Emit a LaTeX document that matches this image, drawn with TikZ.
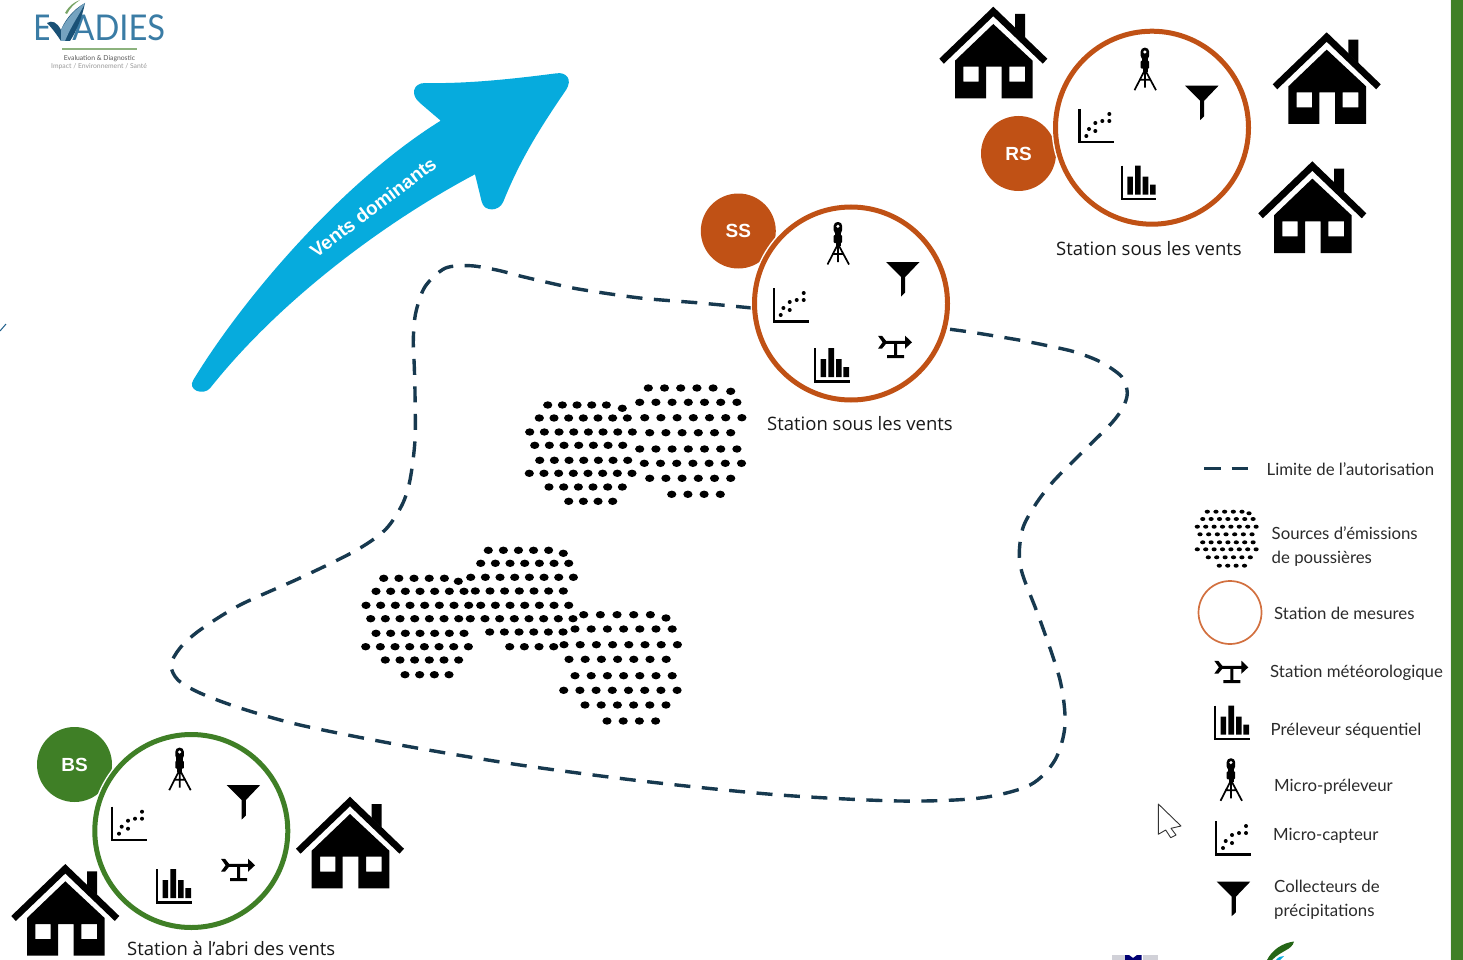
\documentclass[tikz,border=0pt]{standalone}
\usepackage{fontspec}
\setmainfont{Lato}
\newfontfamily\seg{Open Sans}
\newfontfamily\hel{Liberation Sans}
\definecolor{ora}{HTML}{C05115}
\definecolor{oral}{HTML}{D2703F}
\definecolor{grn}{HTML}{3F7F26}
\definecolor{navy}{HTML}{17394F}
\definecolor{wind}{HTML}{06ABDD}
\definecolor{evb}{HTML}{3A7CA5}
\definecolor{evd}{HTML}{1F5F8B}
\definecolor{legt}{HTML}{2B2B2B}
\tikzset{
  ring/.style={circle,draw=#1,line width=5pt,minimum size=193pt,inner sep=0pt,fill=white},
  halo/.style={circle,fill=white,minimum size=201pt,inner sep=0pt},
  badge/.style={circle,fill=#1,minimum size=75pt,inner sep=0pt,text=white,font=\hel\bfseries\fontsize{19}{19}\selectfont},
  stlabel/.style={anchor=base west,inner sep=0pt,text=black!90,font=\seg\fontsize{18.5}{18.5}\selectfont},
  legend/.style={anchor=base west,inner sep=0pt,text=legt,font=\fontsize{16.8}{16.8}\selectfont},
  boundary/.style={draw=navy,line width=3.4pt,dash pattern=on 16pt off 11.5pt}
}
\newcommand{\icTripod}[2]{\begin{scope}[shift={(#1,#2)}]
 \fill[rounded corners=3.8pt] (6.7,0) rectangle (15.1,12);
 \fill (7.6,10) rectangle (14.2,15);
 \fill[rounded corners=1pt] (6.7,13) rectangle (15.1,21);
 \fill (8.5,20) rectangle (13.5,24);
 \fill[white] (10.9,4.3) circle (1.7);
 \draw[line width=1.7pt] (11,22) -- (0.5,42.5) (11,22) -- (22,42.5) (11,22) -- (11,40) (5,32) -- (17,32);
\end{scope}}
\newcommand{\icFunnel}[2]{\begin{scope}[shift={(#1,#2)}]
 \fill (0,0) -- (33.5,0) -- (19.2,15) -- (19.2,30.5) -- (15,34.5) -- (15,15) -- cycle;
\end{scope}}
\newcommand{\icCapteur}[2]{\begin{scope}[shift={(#1,#2)}]
 \draw[line width=2.4pt] (1.2,0) -- (1.2,33.3) -- (36,33.3);
 \foreach \p/\q in {8/27,10.7/20,17/14,17/22,24/12,31/12,31/5} \fill (\p,\q) circle (2);
\end{scope}}
\newcommand{\icBars}[2]{\begin{scope}[shift={(#1,#2)}]
 \draw[line width=2.4pt] (1.2,0) -- (1.2,33.3) -- (35.5,33.3);
 \fill (6.7,11) rectangle (12.2,29) (14.3,0) rectangle (20,29) (22,11) rectangle (27.7,29) (29.3,19) rectangle (35,29);
\end{scope}}
\newcommand{\icMeteo}[2]{\begin{scope}[shift={(#1,#2)}]
 \fill (0,0.8) -- (4,0.8) -- (8,5.8) -- (27,5.8) -- (27,0.6) -- (34,7.3) -- (27,13.8) -- (27,8.8) -- (8,8.8) -- (4,13.6) -- (0,13.6) -- (4.6,7.3) -- cycle;
 \fill (16,8) rectangle (19,20.5) (9,20.2) rectangle (26,23);
\end{scope}}
\newcommand{\icHouse}[2]{\begin{scope}[shift={(#1,#2)}]
 \fill (0,0) -- (54,52) -- (49.5,57) -- (0,9.5) -- (-49.5,57) -- (-54,52) -- cycle;
 \fill (21.7,7.3) -- (31.7,7.3) -- (31.7,31) -- (21.7,21.5) -- cycle;
 \fill[even odd rule] (0,17.3) -- (39.3,54) -- (39.3,91.7) -- (8.3,91.7) -- (8.3,60) -- (-7.3,60) -- (-7.3,91.7) -- (-38.3,91.7) -- (-38.3,54) -- cycle
  (-30,60) rectangle (-14.7,75) (16,60) rectangle (31.7,75);
\end{scope}}
\newcommand{\drow}[4]{\foreach \k in {1,...,#3} \fill ({#1+(\k-1)*#4},#2) ellipse[x radius=\drx,y radius=\dry];}
\begin{document}
\begin{tikzpicture}[x=1pt,y=-1pt]
\useasboundingbox (0,0) rectangle (1463,960);
\fill[white] (0,0) rectangle (1463,960);
\fill[grn] (1451,0) rectangle (1463,960);
\fill[black!6] (1449.5,0) rectangle (1451,960);
% tick
\draw[evd,line width=1pt] (0,331) -- (6,324);
% logo
\node[anchor=base west,inner sep=0pt,text=evb,xscale=0.92,font=\fontsize{35.5}{35.5}\selectfont] (evlogo) at (33,41) {EVADIES};
\fill[white] (49,5) rectangle (70,42);
\fill[evd!85!black] (47,23) .. controls (52,20) and (57,22) .. (61,30) .. controls (64,22) and (72,10) .. (85,3) .. controls (82,18) and (76,32) .. (70,41) -- (61,41) .. controls (57,35) and (52,28) .. cycle;
\fill[evb!70!white] (61,30) .. controls (66,20) and (74,10) .. (85,3) .. controls (80,14) and (72,24) .. (65,41) -- (61,41) -- cycle;
\fill[grn!70!white] (65,13) .. controls (69,6) and (74,2) .. (80,0) .. controls (74,4) and (70,8) .. (67,14) -- cycle;
\fill[grn!60!white] (62,47.8) rectangle (137,49.6);
\node[anchor=base,inner sep=0pt,text=black!65,font=\fontsize{6.8}{6.8}\selectfont] (evsub) at (99.5,60.5) {Evaluation \& Diagnostic};
\node[anchor=base,inner sep=0pt,text=black!40,font=\fontsize{6.8}{6.8}\selectfont] (evsub2) at (99,68.5) {Impact / Environnement / Santé};
% wind arrow
\fill[wind] (193.3,380) .. controls (245,295) and (345,180) .. (440.7,120.7) -- (420,103)
 .. controls (410,95) and (413,83) .. (425,83) .. controls (470,84) and (520,78) .. (556.7,73.3)
 .. controls (566,72) and (573,79) .. (566,90) .. controls (540,128) and (520,160) .. (503.3,201.7)
 .. controls (499,212) and (484,212) .. (481.7,201.7) -- (475,174.3)
 .. controls (385,222) and (280,300) .. (210,388.3) .. controls (203,396) and (187,390) .. cycle;
\node[rotate=37,inner sep=0pt,text=white,font=\hel\bfseries\fontsize{19}{19}\selectfont] (windlab) at (373,207) {Vents dominants};
% boundary
\draw[boundary] plot[smooth,tension=0.5] coordinates {(752,308) (700,303) (640,298) (580,289.3) (550,283) (523,276.7) (496.7,270) (470,265.7) (445,268.3) (425,286.7) (415.7,313) (413.3,340) (414.3,366.7) (415,393) (415,440) (410,480) (402,505) (385,530) (355,551) (300,578) (240,605) (200,630) (180,648) (171,665) (178,680) (200,693) (240,708) (300,725) (400,745) (520,765) (650,782) (780,795) (900,801) (980,798) (1030,785) (1055,760) (1065,725) (1060,680) (1040,620) (1022.7,575) (1019.3,552.7) (1023.3,526.7) (1036.7,502.7) (1053,481.7) (1071.7,462.7) (1091.7,443) (1111.7,423) (1122.7,408) (1127.3,393) (1121.7,376.7) (1100.7,362) (1075,352) (1049,346) (1022.7,340.7) (995,336) (970,332) (948,329)};
% dots
\def\drx{4.6}\def\dry{3.7}
\drow{547.7}{405}{5}{14.67}\drow{622.3}{408.3}{1}{1}
\drow{539.3}{418}{7}{14.67}\drow{529.7}{432}{8}{14.67}\drow{534.7}{445.3}{7}{14.67}
\drow{539.7}{460.3}{7}{14.67}\drow{529.3}{473.3}{8}{14.67}\drow{549}{487}{6}{14.67}\drow{568.7}{501.3}{4}{14.67}
\drow{648.3}{388}{5}{16.2}\drow{730.7}{391.3}{1}{1}
\drow{639.7}{402.3}{7}{16.2}\drow{644.7}{417.7}{7}{16.2}\drow{649.7}{432.7}{6}{16.2}
\drow{639.7}{449}{7}{16.2}\drow{644.3}{463.3}{7}{16.2}\drow{649.7}{478.3}{6}{16.2}\drow{671.7}{494.3}{4}{16.2}
\drow{383.7}{578.3}{5}{15.17}\drow{458.3}{581.3}{1}{1}
\drow{376}{591.3}{7}{14.67}\drow{366}{605.3}{8}{14.67}\drow{370.7}{618.7}{7}{14.67}
\drow{376}{633.3}{7}{14.67}\drow{365.7}{646.7}{8}{14.67}\drow{385.3}{660}{6}{14.67}\drow{405}{674.7}{4}{14.67}
\drow{488.3}{550.3}{5}{15.08}\drow{563.3}{553.3}{1}{1}
\drow{480.7}{563.3}{7}{14.67}\drow{470.7}{577.3}{8}{14.67}\drow{475.3}{591}{7}{14.67}
\drow{480.7}{605.3}{7}{14.67}\drow{470.3}{618.7}{8}{14.67}\drow{489.7}{632}{6}{14.67}\drow{509.7}{646.7}{4}{14.67}
\drow{583.7}{614.7}{5}{16.67}\drow{666}{618}{1}{1}
\drow{575}{629}{7}{16.2}\drow{564}{644.7}{8}{16.2}\drow{569}{659.3}{7}{16.2}
\drow{575}{675.7}{7}{16.2}\drow{563.7}{690.3}{8}{16.2}\drow{585}{705}{6}{16.2}\drow{607}{721}{4}{16.2}
% legend dots
\def\drx{2.6}\def\dry{2}
\drow{1207.3}{511.7}{5}{8.67}\drow{1249}{513.3}{1}{1}
\drow{1202.7}{519}{7}{8.4}\drow{1197.3}{526.7}{8}{8.4}\drow{1200}{534.3}{7}{8.67}
\drow{1202.7}{542.3}{7}{8.4}\drow{1197.3}{549.3}{8}{8.4}\drow{1208.3}{557.3}{6}{8.4}\drow{1219.3}{565.7}{4}{8.4}
% badges and rings
\node[badge=ora] (ss) at (738.3,231) {SS};
\node[badge=ora] (rs) at (1018.5,153.5) {RS};
\node[badge=grn] (bs) at (74.5,764.5) {BS};
\node[halo] (ssh) at (851,303.5) {};
\node[halo] (rsh) at (1152,127.7) {};
\node[halo] (bsh) at (191.3,831) {};
\node[ring=ora] (ssr) at (851,303.5) {};
\node[ring=ora] (rsr) at (1152,127.7) {};
\node[ring=grn] (bsr) at (191.3,831) {};
% icons SS
\icTripod{827}{222}\icFunnel{886}{262}\icCapteur{772.7}{288}\icBars{814}{348}\icMeteo{878}{335}
% icons RS
\icTripod{1134}{47.7}\icFunnel{1185}{85.7}\icCapteur{1078.3}{109}\icBars{1120.7}{165.7}
% icons BS
\icTripod{168.7}{747.7}\icFunnel{226.7}{785}\icCapteur{111}{806.7}\icBars{156}{869}\icMeteo{221}{858}
% houses
\icHouse{993.3}{6.7}\icHouse{1326.7}{32.3}\icHouse{1312.3}{161.3}\icHouse{65.3}{864}\icHouse{350}{796.7}
% station labels
\node[stlabel] (lss) at (767,430) {Station sous les vents};
\node[stlabel] (lrs) at (1056,255) {Station sous les vents};
\node[stlabel] (lbs) at (127,955) {Station à l’abri des vents};
% legend
\draw[navy,line width=3pt] (1204,468.3) -- (1220.7,468.3) (1231.7,468.3) -- (1248,468.3);
\node[legend] (t1) at (1266.5,475) {Limite de l’autorisation};
\node[legend] (t2) at (1271.5,539) {Sources d’émissions};
\node[legend] (t2b) at (1271.5,563) {de poussières};
\node[circle,draw=oral,line width=1.7pt,minimum size=63pt,inner sep=0pt] (lc) at (1230,612.5) {};
\node[legend] (t3) at (1274,619) {Station de mesures};
\icMeteo{1214.3}{660}
\node[legend] (t4) at (1270,677.5) {Station météorologique};
\icBars{1214}{705.5}
\node[legend] (t5) at (1270.5,735) {Préleveur séquentiel};
\icTripod{1220}{758.3}
\node[legend] (t6) at (1274,791) {Micro-préleveur};
\icCapteur{1215}{821}
\node[legend] (t7) at (1273,840.7) {Micro-capteur};
\icFunnel{1216.7}{881.7}
\node[legend] (t8) at (1274,892.7) {Collecteurs de};
\node[legend] (t8b) at (1274,916.7) {précipitations};
% cursor
\draw[fill=white,draw=black!80,line width=0.9pt,line join=round] (1158.3,804) -- (1181,826) -- (1171,828.3) -- (1176,835) -- (1170.7,837.7) -- (1165.7,830) -- (1158.3,834.3) -- cycle;
% logo fragments at the lower edge
\fill[blue!15!black!18] (1112,955) rectangle (1125,960);
\fill[blue!45!black] (1125,955) -- (1129,955) -- (1133,958) -- (1137,955) -- (1141.5,955) -- (1141.5,960) -- (1125,960) -- cycle;
\fill[blue!15!black!18] (1143,955) rectangle (1158,960);
\fill[grn!85!green!70!black] (1267,960) .. controls (1272,950) and (1282,943) .. (1294,941.5) .. controls (1292,950) and (1282,950) .. (1272,960) -- cycle;
\fill[wind] (1276,960) .. controls (1278,957) and (1281,956) .. (1284,956) -- (1280,960) -- cycle;
\end{tikzpicture}
\end{document}
